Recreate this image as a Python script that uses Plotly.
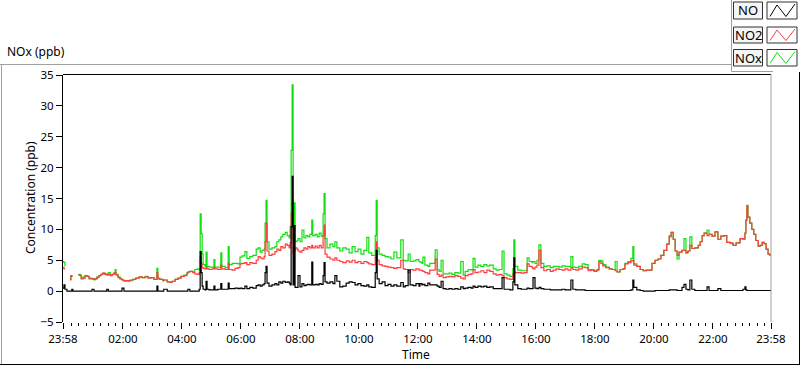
import pandas as pd
import plotly.graph_objects as go

# ---------------- data (minutes after 23:58, ppb) ----------------
time_min = [
    0, 2, 4, 8, 14, 16, 18, 20, 28, 31, 35, 37, 41, 45, 49, 53, 59, 63, 65, 69,
    73, 77, 81, 85, 89, 92, 96, 100, 104, 106, 108, 112, 116, 120, 124, 130, 136, 142, 148, 155,
    161, 167, 173, 179, 185, 189, 191, 193, 197, 203, 205, 212, 218, 222, 228, 234, 240, 246, 252, 254,
    258, 264, 268, 273, 277, 279, 281, 283, 285, 289, 291, 293, 297, 303, 307, 309, 315, 321, 323, 330,
    336, 338, 344, 350, 356,
    360, 364, 370, 374, 380, 386, 393, 397, 401, 405, 409, 411, 413, 415, 419, 425, 431, 435, 439, 443,
    447, 452, 456, 460, 462, 464, 466, 468, 470, 472, 476, 478, 482, 486, 490, 494, 498, 502, 506, 508,
    513, 517, 521, 525, 529, 531, 533, 537, 543, 549, 553, 557, 563, 569, 576, 582, 588, 594, 600, 606,
    612, 618, 622, 628, 635, 637, 639, 643, 649, 655, 661, 667, 673, 679, 687, 692, 696, 702, 706, 712,
    718, 724,
    726, 730, 732, 736, 742, 746, 757, 761, 765, 769, 773, 779, 785, 791, 797, 803, 809, 814, 818, 824,
    830, 834, 838, 844, 850, 856, 862, 868, 875, 881, 887, 893, 897, 903, 909, 915, 917, 919, 925, 932,
    938, 944, 948, 954, 956, 960, 964, 968, 972, 978, 984, 991, 997, 1003, 1009, 1015, 1021, 1027, 1033, 1037,
    1043, 1049, 1056, 1062, 1068, 1074, 1080, 1086, 1090,
    1094, 1098, 1104, 1111, 1117, 1123, 1127, 1133, 1139, 1143, 1149, 1155, 1159, 1161, 1167, 1174, 1180, 1186, 1192, 1198,
    1204, 1210, 1216, 1222, 1228, 1233, 1237, 1241, 1245, 1249, 1253, 1259, 1263, 1267, 1271, 1275, 1279, 1285, 1292, 1296,
    1300, 1304, 1310, 1314, 1320, 1326, 1332, 1338, 1344, 1350, 1357, 1363, 1369, 1377, 1383, 1387, 1389, 1391, 1393, 1397,
    1401, 1405, 1409, 1414, 1418, 1422, 1426, 1430, 1434, 1438, 1440,
]

no_ppb = [
    0.5, 1.0, 0.3, 0.0, 0.0, 0.0, 0.3, 0.0, 0.0, 0.0, 0.0, 0.0, 0.0, 0.0, 0.0, 0.0, 0.3, 0.0, 0.0, 0.0,
    0.0, 0.0, 0.0, 0.0, 0.3, 0.0, 0.0, 0.0, 0.0, 0.0, 0.0, 0.0, 0.0, 0.5, 0.0, 0.0, 0.0, 0.0, 0.0, 0.0,
    0.0, 0.0, 0.0, 0.0, 0.0, 0.0, 0.8, 0.0, 0.0, 0.0, 0.3, 0.0, 0.0, 0.0, 0.0, 0.0, 0.0, 0.0, 0.0, 0.3,
    0.0, 0.0, 0.0, 0.0, 0.3, 6.4, 3.0, 0.8, 0.3, 0.2, 1.6, 0.3, 0.2, 0.2, 0.8, 0.2, 0.3, 1.2, 0.3, 0.3,
    1.3, 0.4, 0.4, 0.5, 0.4,
    0.5, 0.4, 0.8, 0.4, 0.6, 0.5, 0.9, 1.0, 0.8, 1.0, 1.2, 3.0, 4.0, 1.3, 0.8, 1.0, 1.2, 1.0, 1.5, 1.3,
    1.6, 1.4, 1.5, 1.3, 1.0, 10.4, 18.6, 1.0, 10.6, 0.6, 0.6, 2.5, 0.7, 1.2, 0.9, 1.0, 1.1, 1.0, 4.7, 1.0,
    1.1, 1.0, 1.2, 1.1, 2.5, 4.6, 1.5, 1.3, 1.5, 1.2, 2.5, 1.6, 0.7, 0.8, 1.3, 1.5, 1.4, 1.0, 1.2, 0.9,
    0.8, 1.0, 0.7, 0.6, 3.0, 6.6, 2.0, 1.2, 1.5, 0.9, 1.1, 0.8, 1.0, 0.8, 1.4, 0.7, 0.9, 3.4, 1.0, 0.9,
    1.2, 0.8,
    1.2, 1.0, 1.1, 0.9, 1.3, 1.0, 1.0, 0.8, 0.6, 1.6, 0.4, 0.3, 0.4, 0.3, 0.4, 0.3, 0.7, 0.4, 0.5, 0.6,
    0.5, 0.8, 0.6, 0.8, 0.7, 0.8, 0.6, 0.7, 0.4, 0.4, 0.4, 2.2, 0.3, 0.3, 0.2, 1.5, 5.4, 1.0, 0.4, 0.3,
    0.3, 0.5, 0.4, 0.4, 2.2, 0.5, 0.4, 0.6, 0.4, 0.3, 0.3, 0.2, 0.2, 0.2, 0.2, 0.3, 0.2, 0.2, 1.8, 0.3,
    0.2, 0.2, 0.2, 0.1, 0.1, 0.1, 0.1, 0.1, 0.1,
    0.1, 0.1, 0.1, 0.1, 0.1, 0.1, 0.1, 0.1, 0.1, 0.1, 0.1, 0.2, 1.8, 0.6, 0.2, 0.1, 0.0, 0.0, 0.0, 0.0,
    0.1, 0.1, 0.1, 0.1, 0.1, 0.2, 0.2, 0.2, 0.2, 0.1, 0.1, 0.6, 1.1, 0.3, 0.2, 1.8, 0.3, 0.1, 0.1, 0.1,
    0.1, 0.1, 0.7, 0.1, 0.1, 0.1, 0.4, 0.1, 0.1, 0.1, 0.1, 0.1, 0.1, 0.1, 0.3, 0.7, 0.2, 0.1, 0.1, 0.1,
    0.1, 0.1, 0.1, 0.1, 0.1, 0.1, 0.1, 0.1, 0.1, 0.1, 0.1,
]

no2_ppb = [
    3.8, 3.6, 3.6, None, 1.8, 2.5, 2.3, None, None, 2.6, 2.5, 2.0, 2.1, 2.5, 2.4, 2.0, 2.0, 1.9, 2.0, 2.2,
    2.5, 2.7, 2.9, 2.7, 2.6, 2.7, 2.5, 2.7, 2.9, 3.0, 2.6, 2.2, 2.0, 1.8, 1.7, 1.7, 1.8, 1.9, 2.1, 2.3,
    2.2, 2.3, 2.1, 2.2, 1.9, 1.9, 3.0, 2.0, 1.9, 1.7, 1.8, 1.5, 1.4, 1.6, 1.9, 2.1, 2.4, 2.5, 2.9, 3.1,
    3.2, 3.0, 2.8, 2.7, 3.0, 5.5, 4.5, 3.8, 3.7, 3.6, 3.8, 3.6, 3.5, 3.6, 3.8, 3.6, 3.5, 4.2, 3.6, 3.5,
    4.5, 3.5, 3.4, 3.7, 3.8,
    4.4, 4.5, 4.6, 4.3, 4.6, 4.5, 5.0, 5.6, 5.4, 5.2, 5.6, 8.0, 11.0, 6.5, 5.8, 6.0, 6.4, 6.8, 6.6, 7.2,
    7.0, 7.6, 7.4, 7.0, 7.8, 12.6, 14.8, 6.0, 6.5, 7.0, 6.8, 6.5, 6.3, 6.6, 7.0, 6.8, 7.2, 7.0, 7.4, 7.0,
    7.3, 7.0, 7.4, 7.0, 9.0, 10.7, 6.0, 5.5, 5.2, 5.0, 5.4, 5.0, 4.8, 4.6, 4.9, 4.7, 5.0, 4.6, 4.8, 4.5,
    4.8, 4.6, 4.4, 4.3, 5.5, 8.0, 5.0, 4.3, 4.1, 4.0, 3.9, 3.8, 3.7, 3.8, 5.0, 3.6, 3.5, 3.0, 3.5, 3.4,
    3.6, 3.4,
    3.4, 3.3, 3.2, 3.0, 2.8, 3.4, 5.2, 2.7, 2.4, 2.6, 2.2, 2.3, 2.4, 2.3, 2.5, 2.4, 2.1, 2.0, 2.5, 2.7,
    2.8, 3.5, 3.0, 3.1, 3.3, 3.0, 3.4, 3.2, 2.8, 2.6, 2.7, 2.5, 2.2, 2.0, 1.9, 2.8, 3.2, 3.0, 3.0, 2.9,
    3.0, 4.4, 4.0, 3.8, 3.6, 3.9, 4.2, 6.6, 3.8, 3.3, 3.5, 3.2, 3.4, 3.6, 3.5, 3.4, 3.6, 3.4, 3.8, 3.5,
    3.4, 3.6, 3.9, 3.8, 3.3, 3.4, 3.2, 3.4, 4.8,
    4.5, 4.1, 3.8, 3.6, 3.5, 3.3, 3.1, 3.5, 3.6, 4.4, 4.6, 4.9, 5.0, 4.2, 4.0, 3.5, 3.3, 3.4, 3.4, 4.5,
    5.0, 5.2, 5.8, 6.6, 7.6, 8.8, 9.5, 8.4, 6.5, 5.8, 6.3, 6.6, 6.6, 6.2, 6.5, 7.4, 6.9, 7.0, 7.4, 8.0,
    9.0, 9.4, 9.0, 9.2, 8.9, 9.6, 8.4, 8.9, 9.0, 7.9, 7.8, 7.4, 7.8, 8.5, 8.4, 9.4, 11.5, 13.8, 12.0, 11.0,
    10.0, 9.2, 8.2, 7.3, 7.4, 7.9, 7.7, 6.8, 6.0, 5.8, 5.7,
]

nox_ppb = [
    4.8, 4.6, 4.0, None, 1.9, 2.5, 2.3, None, None, 2.7, 2.6, 2.1, 2.3, 2.5, 2.4, 2.1, 2.0, 1.8, 2.0, 2.3,
    2.5, 2.7, 2.9, 2.8, 2.7, 3.0, 2.6, 2.7, 3.0, 3.5, 2.7, 2.3, 2.0, 1.8, 1.6, 1.6, 1.7, 1.9, 2.1, 2.3,
    2.2, 2.4, 2.2, 2.2, 1.9, 1.9, 3.7, 2.1, 1.9, 1.7, 1.8, 1.5, 1.4, 1.6, 1.9, 2.1, 2.4, 2.6, 2.9, 3.1,
    3.2, 3.1, 3.5, 3.6, 3.4, 12.5, 9.3, 6.0, 4.3, 4.0, 6.3, 4.0, 3.9, 3.9, 5.1, 3.9, 3.9, 6.2, 4.0, 3.8,
    7.2, 4.3, 4.5, 4.5, 4.4,
    5.5, 5.7, 6.4, 5.3, 5.6, 5.8, 6.8, 7.0, 6.3, 6.6, 6.8, 11.0, 14.7, 8.0, 6.8, 7.0, 7.2, 8.0, 8.3, 8.8,
    9.2, 9.5, 9.0, 8.6, 10.5, 22.8, 33.4, 8.5, 14.3, 8.0, 8.2, 8.5, 8.0, 9.9, 8.6, 9.0, 8.8, 9.2, 11.5, 9.0,
    9.2, 8.8, 9.4, 8.9, 12.5, 15.8, 8.5, 7.0, 7.6, 7.2, 8.0, 7.0, 6.5, 7.0, 6.8, 6.2, 7.2, 6.4, 6.8, 6.0,
    6.6, 8.7, 6.2, 5.8, 9.0, 14.7, 7.0, 6.0, 5.8, 5.6, 5.5, 5.2, 6.3, 5.4, 8.3, 5.0, 4.9, 6.0, 4.8, 4.9,
    5.1, 4.8,
    4.7, 4.5, 5.5, 4.2, 4.0, 4.5, 6.7, 3.5, 3.2, 5.0, 2.8, 2.8, 2.9, 2.7, 3.0, 2.9, 4.8, 2.6, 3.2, 3.5,
    3.4, 5.3, 3.9, 4.2, 4.0, 4.3, 4.1, 4.2, 3.6, 3.4, 3.5, 6.5, 2.8, 2.6, 2.4, 3.6, 8.3, 4.0, 3.4, 3.3,
    3.3, 5.4, 4.8, 4.6, 4.8, 4.5, 5.0, 7.5, 4.5, 4.0, 4.1, 3.8, 4.0, 4.0, 3.9, 4.1, 4.0, 4.0, 5.6, 3.9,
    3.8, 4.0, 4.4, 4.3, 3.5, 3.5, 3.3, 3.5, 5.0,
    4.9, 4.3, 3.9, 3.6, 3.5, 4.8, 3.1, 3.5, 3.6, 4.5, 4.8, 5.3, 7.2, 4.4, 4.0, 3.5, 3.3, 3.4, 3.4, 4.5,
    5.0, 5.2, 5.8, 6.6, 7.6, 9.0, 9.5, 8.4, 6.5, 5.2, 6.3, 6.6, 8.5, 6.2, 6.5, 8.8, 6.9, 7.0, 7.4, 8.0,
    9.0, 9.4, 9.9, 9.2, 8.9, 9.6, 8.4, 8.9, 9.0, 7.9, 7.7, 7.4, 7.8, 8.5, 8.4, 9.4, 11.5, 13.9, 12.0, 11.0,
    10.0, 9.2, 8.2, 7.3, 7.4, 7.9, 7.7, 6.8, 6.0, 5.8, 5.7,
]

tick_labels = ["23:58", "02:00", "04:00", "06:00", "08:00", "10:00", "12:00",
               "14:00", "16:00", "18:00", "20:00", "22:00", "23:58"]
series_names = ["NO", "NO2", "NOx"]
series_colors = ["#000000", "#ff3c3c", "#10e010"]

assert len(time_min) == len(no_ppb) == len(no2_ppb) == len(nox_ppb), (
    len(time_min), len(no_ppb), len(no2_ppb), len(nox_ppb))

start = pd.Timestamp("2024-01-01 23:58")
times = start + pd.to_timedelta(time_min, unit="min")
tick_vals = [start] + [pd.Timestamp("2024-01-02 %02d:00" % h) for h in range(2, 24, 2)] + [
    start + pd.Timedelta(minutes=1440)]

fig = go.Figure()
# draw order: NOx under NO2 under NO
for vals, idx in ((nox_ppb, 2), (no2_ppb, 1), (no_ppb, 0)):
    fig.add_trace(go.Scatter(x=times, y=vals, mode="lines", name=series_names[idx],
                             line=dict(color=series_colors[idx], width=1.2, shape="hv"),
                             connectgaps=False, hoverinfo="skip"))

# pixel -> paper helpers (plot area: x 63..771, y 75..322)
L, R, T, B = 63, 771, 75, 322
def px(x):
    return (x - L) / (R - L)
def py(y):
    return (B - y) / (B - T)

FONT = "Noto Sans"
TICKSIZE = 11.5
fig.update_layout(
    width=800, height=365,
    margin=dict(l=L, r=800 - R, t=T, b=365 - B),
    paper_bgcolor="white", plot_bgcolor="white",
    showlegend=False,
    font=dict(family=FONT, size=12, color="black"),
    xaxis=dict(
        range=[start, start + pd.Timedelta(minutes=1440)],
        tickvals=tick_vals, ticktext=tick_labels,
        ticks="outside", ticklen=6, tickcolor="black", tickwidth=1,
        minor=dict(dtick=15 * 60 * 1000, tick0="2024-01-02 00:00", ticks="outside",
                   ticklen=3, tickcolor="black", showgrid=False),
        showgrid=False, zeroline=False, showline=False,
        tickfont=dict(family=FONT, size=TICKSIZE, color="black"),
    ),
    yaxis=dict(
        range=[-5, 35], dtick=5, tick0=0,
        ticks="outside", ticklen=6, tickcolor="black",
        showgrid=False, zeroline=False,
        showline=True, linecolor="black", linewidth=1,
        tickfont=dict(family=FONT, size=TICKSIZE, color="black"),
    ),
)

shapes = []
def line(x0, y0, x1, y1, color, width=1):
    shapes.append(dict(type="line", xref="paper", yref="paper",
                       x0=px(x0), y0=py(y0), x1=px(x1), y1=py(y1),
                       line=dict(color=color, width=width)))

# plot frame
line(63, 74.5, 771, 74.5, "black")
line(771, 74.5, 771, 322, "#a0a0a0")
# outer control frame
line(0, 64.5, 731, 64.5, "#a0a0a0")
line(1.5, 64.5, 1.5, 365, "#a0a0a0")
line(0, 364.5, 800, 364.5, "black")
line(799.5, 72, 799.5, 365, "black")
# legend panel edge
line(731.5, 0, 731.5, 71, "#a0a0a0")
line(731.5, 71.5, 773, 71.5, "#a0a0a0")

rows = [(2, 19), (27, 43), (49.5, 66)]
for i, (yt, yb) in enumerate(rows):
    shapes.append(dict(type="rect", xref="paper", yref="paper",
                       x0=px(733.5), x1=px(762.5), y0=py(yt), y1=py(yb),
                       fillcolor="#f5f5f5", line=dict(color="#303030", width=1)))
    shapes.append(dict(type="rect", xref="paper", yref="paper",
                       x0=px(767), x1=px(797), y0=py(yt), y1=py(yb),
                       fillcolor="white", line=dict(color="#303030", width=1)))
    pts = [(770, yb - 2.5), (777, yt + 3), (786, yb - 2.5), (795, yt + 2)]
    path = "M " + " L ".join("%f,%f" % (px(a), py(b)) for a, b in pts)
    shapes.append(dict(type="path", xref="paper", yref="paper", path=path,
                       line=dict(color=series_colors[i], width=1)))

annotations = [
    dict(text="NOx (ppb)", x=px(5), y=py(52), xref="paper", yref="paper",
         xanchor="left", yanchor="middle", showarrow=False,
         font=dict(family=FONT, size=12, color="black")),
    dict(text="Concentration (ppb)", x=px(30), y=py(198), xref="paper", yref="paper",
         xanchor="center", yanchor="middle", textangle=-90, showarrow=False,
         font=dict(family=FONT, size=12, color="black")),
    dict(text="Time", x=px(416), y=py(354), xref="paper", yref="paper",
         xanchor="center", yanchor="middle", showarrow=False,
         font=dict(family=FONT, size=12, color="black")),
]
for i, (yt, yb) in enumerate(rows):
    annotations.append(dict(text=series_names[i], x=px(748), y=py((yt + yb) / 2),
                            xref="paper", yref="paper", xanchor="center", yanchor="middle",
                            showarrow=False, font=dict(family=FONT, size=13, color="black")))

fig.update_layout(shapes=shapes, annotations=annotations)
fig.write_html("out.html", config={"displayModeBar": False},
               post_script="document.body.style.margin='0';document.body.style.padding='0';")
